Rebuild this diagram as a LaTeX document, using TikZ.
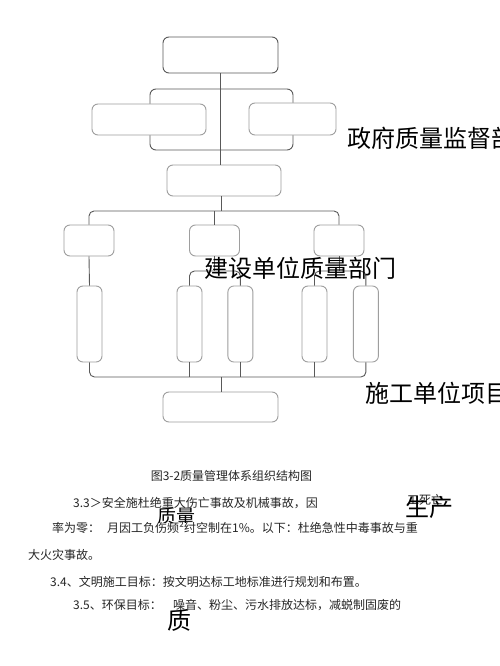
\documentclass[tikz,border=0pt]{standalone}
\usepackage{fontspec}
\newfontfamily\cjk{Noto Sans CJK SC}
\usetikzlibrary{positioning}
\tikzset{
	frame/.style={draw=black!65, line width=0.9pt, rounded corners=6pt, inner sep=0pt},
	unit/.style={draw=black!38, line width=0.9pt, fill=white, rounded corners=6pt, inner sep=0pt},
	wide/.style={unit, minimum width=114pt, minimum height=31pt},
	small/.style={unit, minimum width=50pt, minimum height=31pt},
	tall/.style={unit, minimum width=25pt, minimum height=76pt},
	link/.style={draw=black!65, line width=0.9pt},
	big/.style={font=\cjk\fontsize{24}{24}\selectfont, inner sep=0pt, anchor=west},
	para/.style={font=\cjk\fontsize{12}{12}\selectfont, inner sep=0pt, anchor=west, text=black!85},
}
\begin{document}
\begin{tikzpicture}[x=1pt,y=-1pt]
	\useasboundingbox[fill=white] (0,0) rectangle (500,666);
	\node[frame, minimum width=115pt, minimum height=36pt] (Top) at (220.5,55) {};
	\node[frame, minimum width=143pt, minimum height=61pt] (Gov) at (221.5,119.5) {};
	\node[wide] (GovL) at (149,119.5) {};
	\node[unit, minimum width=87pt, minimum height=32pt] (GovR) at (292.5,119) {};
	\node[wide] (Mid) at (224,180.5) {};
	\node[small] (L1) at (89,240.5) {};
	\node[small] (M1) at (214.5,240.5) {};
	\node[small] (R1) at (339,240.5) {};
	\node[tall] (T1) at (89.5,324) {};
	\node[tall] (T2) at (189.5,324) {};
	\node[tall, right=25pt of T2] (T3) {};
	\node[tall] (T4) at (314.5,324) {};
	\node[tall, right=25.5pt of T4] (T5) {};
	\node[unit, minimum width=115pt, minimum height=30pt] (Bot) at (220.5,407) {};
	\coordinate (busA) at (221,211);
	\coordinate (busB) at (221,377);
	\coordinate (brM) at (214.5,271);
	\coordinate (brR) at (339,271);
	\draw[link] (Top.south) -- (Top.south |- Mid.north);
	\draw[link] (busA |- Mid.south) -- (busA);
	\draw[link, rounded corners=5pt] (L1.north) |- (busA) -| (R1.north);
	\draw[link] (M1.north) -- (M1.north |- busA);
	\draw[link] (L1.south) -- (T1.north);
	\draw[link] (M1.south) -- (brM);
	\draw[link, rounded corners=5pt] (T2.north) |- (brM) -| (T3.north);
	\draw[link] (R1.south) -- (brR);
	\draw[link, rounded corners=5pt] (T4.north) |- (brR) -| (T5.north);
	\draw[link, rounded corners=5pt] (T1.south) |- (busB) -| (T5.south);
	\foreach \t in {T2,T3,T4}
		\draw[link] (\t.south) -- (\t.south |- busB);
	\draw[link] (busB) -- (busB |- Bot.north);
	\node[big] (GovText) at (347,138) {政府质量监督部};
	\node[big] (OwnerText) at (204,268) {建设单位质量部门};
	\node[big] (BuildText) at (365,393) {施工单位项目};
	\node[para, anchor=center] (Caption) at (231.5,476) {图3-2质量管理体系组织结构图};
	\node[para] (LineA) at (73,503) {3.3＞安全施杜绝重大伤亡事故及机械事故，因};
	\node[para] (LineAend) at (407,500) {工死亡};
	\node[big] (Prod) at (405,507) {生产};
	\begin{scope}
		\clip (150,490) rectangle (200,522);
		\node[big, font=\cjk\fontsize{19}{19}\selectfont] (Qual) at (157,516) {质量};
	\end{scope}
	\node[para] (LineB) at (52,528) {率为零：};
	\node[para] (LineBmid) at (107,528) {月因工负伤频²纣空制在1\%。以下：杜绝急性中毒事故与重};
	\node[para] (LineC) at (28,555) {大火灾事故。};
	\node[para] (LineD) at (50,582) {3.4、文明施工目标：按文明达标工地标准进行规划和布置。};
	\node[para] (LineE) at (73,605) {3.5、环保目标：};
	\node[para] (LineEmid) at (173,605) {噪音、粉尘、污水排放达标，减蜕制固废的};
	\node[big] (Zhi) at (167,620) {质};
\end{tikzpicture}
\end{document}
